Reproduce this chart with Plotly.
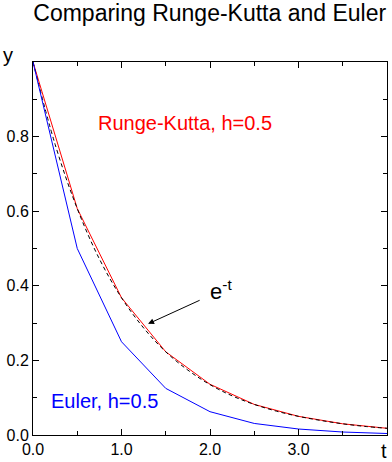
import plotly.graph_objects as go

# Data
t_steps = [0.0, 0.5, 1.0, 1.5, 2.0, 2.5, 3.0, 3.5, 4.0]
euler_y = [1.0, 0.5, 0.25, 0.125, 0.0625, 0.031, 0.016, 0.008, 0.004]
rk_y = [1.0, 0.607, 0.368, 0.223, 0.136, 0.082, 0.050, 0.030, 0.018]

t_exact = [0.0, 0.25, 0.5, 0.75, 1.0, 1.25, 1.5, 1.75, 2.0, 2.25, 2.5, 2.75,
           3.0, 3.25, 3.5, 3.75, 4.0]
exact_y = [1.0, 0.779, 0.607, 0.472, 0.368, 0.287, 0.223, 0.174, 0.135,
           0.105, 0.082, 0.064, 0.050, 0.039, 0.030, 0.023, 0.018]

title_text = "Comparing Runge-Kutta and Euler"
x_tickvals = [0, 1, 2, 3]
y_tickvals = [0.0, 0.2, 0.4, 0.6, 0.8]

FONT = "Liberation Sans, Arial, Helvetica, sans-serif"

fig = go.Figure()
fig.add_trace(go.Scatter(x=t_steps, y=rk_y, mode="lines",
                         line=dict(color="#ff0000", width=1), name="Runge-Kutta"))
fig.add_trace(go.Scatter(x=t_exact, y=exact_y, mode="lines",
                         line=dict(color="black", width=1, dash="4px,3px", shape="spline"),
                         name="exact"))
fig.add_trace(go.Scatter(x=t_steps, y=euler_y, mode="lines",
                         line=dict(color="#0000ff", width=1), name="Euler"))

axis_common = dict(
    showline=True, linecolor="black", linewidth=1, mirror="allticks",
    ticks="inside", ticklen=6, tickwidth=1, tickcolor="black",
    showgrid=False, zeroline=False, tickformat=".1f",
    tickfont=dict(family=FONT, size=16, color="black"),
)

fig.update_xaxes(range=[0, 4.0], tickvals=x_tickvals,
                 minor=dict(dtick=0.5, ticks="inside", ticklen=4, tickcolor="black", showgrid=False),
                 **axis_common)
fig.update_yaxes(range=[0, 1.0], tickvals=y_tickvals,
                 minor=dict(dtick=0.1, ticks="inside", ticklen=4, tickcolor="black", showgrid=False),
                 **axis_common)

fig.add_annotation(x=1.72, y=0.836, xref="x", yref="y", text="Runge-Kutta, h=0.5",
                   showarrow=False, font=dict(family=FONT, size=20, color="#ff0000"))
fig.add_annotation(x=0.81, y=0.091, xref="x", yref="y", text="Euler, h=0.5",
                   showarrow=False, font=dict(family=FONT, size=20, color="#0000ff"))
fig.add_annotation(x=2.12, y=0.39, xref="x", yref="y", text="e<sup>-t</sup>",
                   showarrow=False, font=dict(family=FONT, size=22, color="black"))
fig.add_annotation(x=1.30, y=0.298, xref="x", yref="y", axref="x", ayref="y",
                   ax=1.90, ay=0.363, text="", showarrow=True,
                   arrowhead=2, arrowsize=1.2, arrowwidth=1, arrowcolor="black")

fig.add_annotation(x=-25 / 355, y=1 + 7 / 375, xref="paper", yref="paper", text="y",
                   showarrow=False, xanchor="center", yanchor="middle",
                   font=dict(family=FONT, size=20, color="black"))
fig.add_annotation(x=352 / 355, y=-16 / 375, xref="paper", yref="paper", text="t",
                   showarrow=False, xanchor="center", yanchor="middle",
                   font=dict(family=FONT, size=20, color="black"))

fig.update_layout(
    width=392, height=462,
    margin=dict(l=33, r=4, t=62, b=25),
    paper_bgcolor="white", plot_bgcolor="white",
    showlegend=False,
    title=dict(text=title_text, x=0.535, xanchor="center", y=0.972, yanchor="middle",
               font=dict(family=FONT, size=23, color="black")),
)

fig.write_html("out.html",
               config={"displayModeBar": False},
               post_script="document.body.style.margin='0';document.body.style.padding='0';")
